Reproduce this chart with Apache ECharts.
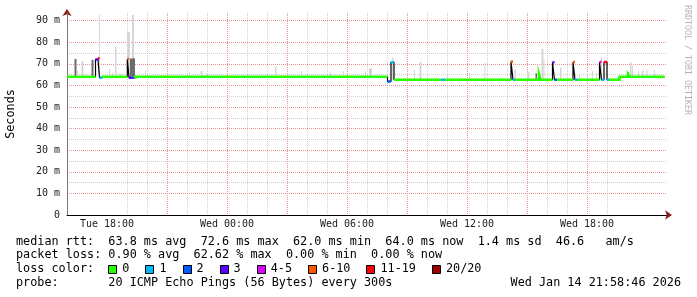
<!DOCTYPE html>
<html><head><meta charset="utf-8">
<script src="https://cdn.jsdelivr.net/npm/echarts@6/dist/echarts.min.js"></script>
<style>html,body{margin:0;padding:0;background:#fff}#c{width:697px;height:297px}</style>
</head><body><div id="c"></div>
<script>
// x values: hours since Tue 00:00 ; y values: milliseconds
const xTickHours = [18, 24, 30, 36, 42];
const xTickLabels = ['Tue 18:00', 'Wed 00:00', 'Wed 06:00', 'Wed 12:00', 'Wed 18:00'];
const xMajorGridHours = [18, 21, 24, 27, 30, 33, 36, 39, 42, 45];
const xMinorGridHours = [17, 19, 20, 22, 23, 25, 26, 28, 29, 31, 32, 34, 35, 37, 38, 40, 41, 43, 44];
const yTickValues = [0, 10, 20, 30, 40, 50, 60, 70, 80, 90];
const yTickLabels = ['0', '10 m', '20 m', '30 m', '40 m', '50 m', '60 m', '70 m', '80 m', '90 m'];
const yMinorGridValues = [5, 15, 25, 35, 45, 55, 65, 75, 85];

const lossLabels = ['0', '1', '2', '3', '4-5', '6-10', '11-19', '20/20'];
const lossColors = ['#26ff00', '#00b8ff', '#0059ff', '#5e00ff', '#dd00ff', '#ff5500', '#ff0000', '#a10000'];

// median rtt: step start time (h), value (ms), loss class index
const medStart = [16.0, 16.85, 16.933, 17.425, 17.55, 17.625, 17.75, 18.2, 18.283, 18.35, 18.433,
  19.015, 19.1, 19.225, 19.35, 19.9, 19.983, 20.95, 21.033, 21.18, 21.263, 22.28, 22.363, 22.45, 22.533,
  23.86, 23.943, 24.18, 24.263, 24.68, 24.763, 25.53, 25.613, 25.87, 25.953, 26.03, 26.113,
  27.15, 27.233, 28.55, 28.633, 30.25, 30.333, 32.025, 32.2, 32.35, 34.72, 34.9, 37.75, 37.833,
  38.2, 38.3, 38.4, 39.6, 39.683,
  40.275, 40.375, 40.5, 41.3, 41.4, 41.525,
  42.625, 42.725, 42.85, 43.0, 43.1, 43.625, 44.05, 44.125];
const medValue = [64.0, 63.3, 64.0, 72.0, 72.5, 63.6, 64.0, 63.3, 64.0, 63.3, 64.0,
  72.2, 63.5, 63.5, 64.0, 63.3, 64.0, 63.3, 64.0, 63.3, 64.0, 63.3, 64.0, 63.3, 64.0,
  63.3, 64.0, 63.3, 64.0, 63.3, 64.0, 63.3, 64.0, 63.3, 64.0, 63.3, 64.0,
  63.3, 64.0, 63.3, 64.0, 63.3, 64.0, 61.8, 70.7, 62.6, 62.6, 62.6, 62.0, 62.6,
  71.0, 62.6, 62.6, 65.3, 62.6,
  70.7, 62.6, 62.6, 70.8, 62.6, 62.6,
  70.8, 62.6, 70.8, 62.6, 62.6, 64.0, 65.1, 64.0];
const medLoss = [0, 0, 0, 3, 6, 1, 0, 0, 0, 0, 0,
  5, 3, 2, 0, 0, 0, 0, 0, 0, 0, 0, 0, 0, 0,
  0, 0, 0, 0, 0, 0, 0, 0, 0, 0, 0, 0,
  0, 0, 0, 0, 0, 0, 2, 1, 0, 1, 0, 0, 0,
  5, 1, 0, 0, 0,
  3, 2, 0, 5, 1, 0,
  4, 1, 6, 1, 0, 0, 0, 0];
const medEnd = 45.875;

// smoke: [start h, end h, low ms, high ms]
const smokeLight = [
  [16.5, 16.55, 64, 66.7], [16.725, 16.825, 64, 71.3], [17.6, 17.65, 64, 92.6],
  [18.1, 18.15, 64, 67.6], [18.25, 18.3, 64, 65.7], [18.4, 18.475, 64, 77.9], [18.65, 18.7, 64, 65.3],
  [19.0, 19.15, 64, 84.6], [19.25, 19.35, 64, 92.6], [19.9, 19.95, 64, 67.1],
  [22.1, 22.15, 64, 66.2], [22.675, 22.775, 64, 66.7], [22.925, 22.975, 64, 65.4],
  [26.4, 26.475, 64, 68.7], [27.7, 27.75, 64, 66.5], [29.15, 29.2, 64, 66.0], [29.8, 29.85, 64, 66.5],
  [31.1, 31.25, 64, 67.9], [30.9, 30.95, 64, 66.3],
  [32.25, 32.325, 62.6, 72.8], [33.35, 33.4, 62.6, 67.1], [33.625, 33.725, 62.6, 70.8],
  [35.0, 35.05, 62.6, 65.8], [36.1, 36.15, 62.6, 65.8], [36.875, 36.925, 62.6, 70.7],
  [38.375, 38.45, 62.6, 67.4], [39.0, 39.125, 62.6, 66.3], [39.725, 39.825, 62.6, 76.9],
  [39.825, 39.875, 62.6, 71.8], [40.65, 40.725, 62.6, 68.2], [41.6, 41.65, 62.6, 65.4],
  [42.0, 42.05, 62.6, 65.6], [42.25, 42.3, 62.6, 66.7], [42.45, 42.5, 62.6, 65.6],
  [42.675, 42.75, 62.6, 73.0], [44.15, 44.225, 64, 70.7], [44.25, 44.3, 64, 69.2],
  [44.55, 44.6, 64, 66.5], [44.75, 44.825, 64, 66.8], [44.975, 45.025, 64, 67.4], [45.35, 45.4, 64, 67.1]
];
const smokeDark = [
  [16.375, 16.475, 64, 72.2], [17.225, 17.325, 64, 71.8], [19.15, 19.4, 64, 72.5],
  [39.425, 39.5, 62.6, 65.6], [44.05, 44.1, 64, 66.1]
];

const rttStats = ['63.8', '72.6', '62.0', '64.0', '1.4', '46.6'];
const lossStats = ['0.90', '62.62', '0.00', '0.00'];
const probeText = '20 ICMP Echo Pings (56 Bytes) every 300s';
const dateText = 'Wed Jan 14 21:58:46 2026';

// ---- build ----
const MONO = '"DejaVu Sans Mono", monospace';
const GRAY = '#cfcfcf', PINK = '#f09090';
function stepEnd(i) { return i + 1 < medStart.length ? medStart[i + 1] : medEnd; }
function lossLine(cls) {
  const out = [];
  for (let i = 0; i < medStart.length; i++) {
    if (medLoss[i] !== cls) continue;
    if (out.length && (i === 0 || medLoss[i - 1] !== cls)) out.push([medStart[i], null]);
    out.push([medStart[i], medValue[i]]);
    out.push([stepEnd(i), medValue[i]]);
  }
  return out;
}
const blackLine = [];
for (let i = 0; i < medStart.length; i++) {
  blackLine.push([medStart[i], medValue[i]]);
  blackLine.push([stepEnd(i), medValue[i]]);
}
function smokeSeries(data, color) {
  return {
    type: 'custom', data: data, z: 3, silent: true,
    encode: { x: [0, 1], y: [2, 3] },
    renderItem: function (params, api) {
      const p0 = api.coord([api.value(0), api.value(3)]);
      const p1 = api.coord([api.value(1), api.value(2)]);
      return { type: 'rect', shape: { x: p0[0], y: p0[1], width: Math.max(p1[0] - p0[0], 1), height: p1[1] - p0[1] }, style: { fill: color } };
    }
  };
}

const series = [
  smokeSeries(smokeLight, '#d6d6d6'),
  smokeSeries(smokeDark, '#6c6c6c'),
  { type: 'line', data: blackLine, z: 4, showSymbol: false, silent: true, lineStyle: { color: '#000', width: 1.2 } }
];
lossColors.forEach(function (c, k) {
  const d = lossLine(k);
  if (d.length) series.push({ type: 'line', data: d, z: 5, showSymbol: false, silent: true, connectNulls: false,
    lineStyle: { color: c, width: 2.6, cap: 'butt', join: 'miter' } });
});

const row1 = 'median rtt:  ' + rttStats[0] + ' ms avg  ' + rttStats[1] + ' ms max  ' + rttStats[2] + ' ms min  ' + rttStats[3] + ' ms now  ' + rttStats[4] + ' ms sd  ' + rttStats[5] + '   am/s';
const row2 = 'packet loss: ' + lossStats[0] + ' % avg  ' + lossStats[1] + ' % max  ' + lossStats[2] + ' % min  ' + lossStats[3] + ' % now';
const rowY = [241.7, 255.2, 269.0, 282.7];
const FS = 11.8, CW = FS * 0.602;
function txt(t, x, y) {
  return { type: 'text', x: x, y: y, silent: true,
    style: { text: t, x: 0, y: 0, font: FS + 'px ' + MONO, fill: '#000', verticalAlign: 'middle', textVerticalAlign: 'middle', align: 'left', textAlign: 'left' } };
}
const graphics = [
  txt(row1, 16, rowY[0]), txt(row2, 16, rowY[1]), txt('loss color:', 16, rowY[2]),
  txt('probe:       ' + probeText, 16, rowY[3]),
  { type: 'text', x: 681, y: rowY[3], silent: true, style: { text: dateText, x: 0, y: 0, font: FS + 'px ' + MONO, fill: '#000', verticalAlign: 'middle', textVerticalAlign: 'middle', align: 'right', textAlign: 'right' } },
  { type: 'text', x: 10.5, y: 114, rotation: Math.PI / 2, silent: true, style: { text: 'Seconds', x: 0, y: 0, font: FS + 'px ' + MONO, fill: '#000', align: 'center', textAlign: 'center', verticalAlign: 'middle', textVerticalAlign: 'middle' } },
  { type: 'text', x: 687.5, y: 60, rotation: -Math.PI / 2, silent: true, style: { text: 'RRDTOOL / TOBI OETIKER', x: 0, y: 0, font: '8.3px ' + MONO, fill: '#b4b4b4', align: 'center', textAlign: 'center', verticalAlign: 'middle', textVerticalAlign: 'middle' } }
];
let bx = 108.3;
lossLabels.forEach(function (lab, k) {
  graphics.push({ type: 'rect', silent: true, shape: { x: Math.round(bx) + 0.5, y: 265.5, width: 8, height: 8 }, style: { fill: lossColors[k], stroke: '#000', lineWidth: 1 } });
  graphics.push(txt(lab, bx + 14, rowY[2]));
  bx += 14 + lab.length * CW + 16;
});

const chart = echarts.init(document.getElementById('c'), null, { renderer: 'canvas' });
chart.setOption({
  animation: false,
  backgroundColor: '#fff',
  grid: { left: 67, right: 30, top: 13, bottom: 82, containLabel: false },
  xAxis: [{
    // labels + axis line + hourly minor grid
    type: 'value', min: 16, max: 46, z: 1,
    axisLine: { show: true, onZero: false, lineStyle: { color: '#000', width: 1 } },
    axisTick: { show: false, customValues: xMinorGridHours },
    splitLine: { show: true, showMinLine: false, showMaxLine: false, lineStyle: { color: GRAY, type: [1, 1], width: 1 } },
    axisLabel: { customValues: xTickHours, margin: 4, color: '#222', fontFamily: MONO, fontSize: 10,
      formatter: function (v) { const i = xTickHours.indexOf(v); return i >= 0 ? xTickLabels[i] : ''; } }
  }, {
    // major 3-hour grid
    type: 'value', min: 16, max: 46, position: 'bottom', z: 2,
    axisTick: { show: false, customValues: xMajorGridHours }, axisLabel: { show: false },
    axisLine: { show: true, onZero: false, symbol: ['none', 'arrow'], symbolSize: [7, 7], symbolOffset: [0, 5], lineStyle: { color: '#8b1a1a', width: 0 } },
    splitLine: { show: true, showMinLine: false, showMaxLine: false, lineStyle: { color: PINK, type: [1, 1], width: 1 } }
  }],
  yAxis: [{
    type: 'value', min: 0, max: 93.5, interval: 10, z: 2,
    axisLine: { show: true, onZero: false, lineStyle: { color: '#777', width: 1 } },
    axisTick: { show: false },
    splitLine: { show: true, showMinLine: false, showMaxLine: false, lineStyle: { color: PINK, type: [1, 1], width: 1 } },
    axisLabel: { showMaxLabel: false, margin: 7, color: '#222', fontFamily: MONO, fontSize: 10,
      formatter: function (v) { const i = yTickValues.indexOf(v); return i >= 0 ? yTickLabels[i] : ''; } }
  }, {
    type: 'value', min: 0, max: 93.5, position: 'left', z: 1,
    axisTick: { show: false, customValues: yMinorGridValues }, axisLabel: { show: false },
    axisLine: { show: true, onZero: false, symbol: ['none', 'arrow'], symbolSize: [7, 7], symbolOffset: [0, 4], lineStyle: { color: '#8b1a1a', width: 0 } },
    splitLine: { show: true, showMinLine: false, showMaxLine: false, lineStyle: { color: GRAY, type: [1, 1], width: 1 } }
  }],
  series: series,
  graphic: graphics
});
</script></body></html>
